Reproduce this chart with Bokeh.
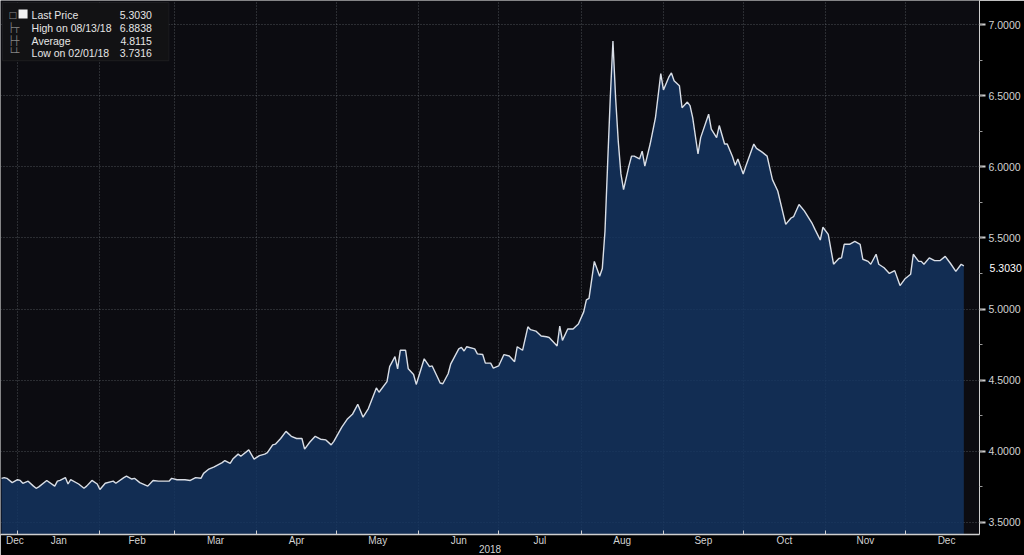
import pandas as pd
from bokeh.plotting import figure
from bokeh.models import (Range1d, FixedTicker, SingleIntervalTicker, NumeralTickFormatter,
                          Label, BoxAnnotation, ColumnDataSource)
from bokeh.embed import file_html
from bokeh.resources import INLINE

# ---------------- data ----------------
dates = [
    "2017-12-26", "2017-12-27", "2017-12-28", "2017-12-30",
    "2018-01-01", "2018-01-02", "2018-01-03", "2018-01-05", "2018-01-07", "2018-01-08", "2018-01-09",
    "2018-01-12", "2018-01-15", "2018-01-16", "2018-01-17", "2018-01-19", "2018-01-20", "2018-01-21",
    "2018-01-24", "2018-01-26", "2018-01-27", "2018-01-29", "2018-01-31",
    "2018-02-01", "2018-02-03", "2018-02-06", "2018-02-07", "2018-02-10", "2018-02-11", "2018-02-13",
    "2018-02-14", "2018-02-16", "2018-02-19", "2018-02-21", "2018-02-23", "2018-02-27", "2018-02-28",
    "2018-03-02", "2018-03-05", "2018-03-07", "2018-03-09", "2018-03-11", "2018-03-12", "2018-03-14",
    "2018-03-16", "2018-03-19", "2018-03-20", "2018-03-22", "2018-03-23", "2018-03-25", "2018-03-26",
    "2018-03-29", "2018-03-31",
    "2018-04-02", "2018-04-04", "2018-04-05", "2018-04-07", "2018-04-08", "2018-04-10", "2018-04-12",
    "2018-04-14", "2018-04-16", "2018-04-18", "2018-04-19", "2018-04-21", "2018-04-23", "2018-04-25",
    "2018-04-27", "2018-04-29", "2018-04-30",
    "2018-05-03", "2018-05-05", "2018-05-07", "2018-05-09", "2018-05-11", "2018-05-13", "2018-05-16",
    "2018-05-17", "2018-05-20", "2018-05-21", "2018-05-23", "2018-05-24", "2018-05-25", "2018-05-27",
    "2018-05-28", "2018-05-30", "2018-05-31",
    "2018-06-03", "2018-06-05", "2018-06-06", "2018-06-08", "2018-06-09", "2018-06-10", "2018-06-12",
    "2018-06-13", "2018-06-16", "2018-06-17", "2018-06-18", "2018-06-19", "2018-06-22", "2018-06-23",
    "2018-06-25", "2018-06-26", "2018-06-28", "2018-06-29",
    "2018-07-01", "2018-07-03", "2018-07-05", "2018-07-07", "2018-07-08", "2018-07-10", "2018-07-12",
    "2018-07-13", "2018-07-15", "2018-07-17", "2018-07-19", "2018-07-20", "2018-07-23", "2018-07-24",
    "2018-07-25", "2018-07-27", "2018-07-29", "2018-07-31",
    "2018-08-02", "2018-08-03", "2018-08-04", "2018-08-06", "2018-08-08", "2018-08-09", "2018-08-10",
    "2018-08-11", "2018-08-12", "2018-08-13", "2018-08-14", "2018-08-15", "2018-08-16", "2018-08-17",
    "2018-08-19", "2018-08-20", "2018-08-21", "2018-08-23", "2018-08-24", "2018-08-25", "2018-08-27",
    "2018-08-29", "2018-08-31",
    "2018-09-01", "2018-09-03", "2018-09-04", "2018-09-05", "2018-09-07", "2018-09-08", "2018-09-10",
    "2018-09-11", "2018-09-12", "2018-09-14", "2018-09-15", "2018-09-18", "2018-09-19", "2018-09-21",
    "2018-09-22", "2018-09-24", "2018-09-25", "2018-09-27", "2018-09-28", "2018-09-29",
    "2018-10-01", "2018-10-02", "2018-10-05", "2018-10-06", "2018-10-08", "2018-10-10", "2018-10-12",
    "2018-10-14", "2018-10-17", "2018-10-19", "2018-10-20", "2018-10-22", "2018-10-24", "2018-10-27",
    "2018-10-28", "2018-10-30", "2018-10-31",
    "2018-11-02", "2018-11-04", "2018-11-06", "2018-11-07", "2018-11-08", "2018-11-10", "2018-11-12",
    "2018-11-14", "2018-11-15", "2018-11-17", "2018-11-18", "2018-11-20", "2018-11-21", "2018-11-23",
    "2018-11-25", "2018-11-27", "2018-11-29",
    "2018-12-01", "2018-12-03", "2018-12-04", "2018-12-06", "2018-12-07", "2018-12-08", "2018-12-10",
    "2018-12-12", "2018-12-14", "2018-12-16", "2018-12-18", "2018-12-20", "2018-12-22", "2018-12-23",
]
prices = [
    3.810, 3.815, 3.810, 3.780,
    3.800, 3.795, 3.775, 3.790, 3.755, 3.740, 3.750,
    3.795, 3.755, 3.790, 3.795, 3.815, 3.770, 3.800,
    3.770, 3.740, 3.755, 3.795, 3.770,
    3.7316, 3.775, 3.790, 3.775, 3.815, 3.825, 3.805,
    3.810, 3.780, 3.755, 3.795, 3.790, 3.790, 3.810,
    3.800, 3.800, 3.795, 3.815, 3.810, 3.845, 3.875,
    3.890, 3.920, 3.935, 3.915, 3.945, 3.980, 3.965,
    4.010, 3.945,
    3.970, 3.980, 3.990, 4.045, 4.050, 4.090, 4.140,
    4.105, 4.090, 4.090, 4.015, 4.065, 4.105, 4.085,
    4.080, 4.045, 4.070,
    4.170, 4.225, 4.260, 4.330, 4.240, 4.300, 4.445,
    4.415, 4.490, 4.595, 4.665, 4.580, 4.710, 4.710,
    4.580, 4.540, 4.470,
    4.650, 4.595, 4.600, 4.520, 4.480, 4.475, 4.545,
    4.615, 4.720, 4.730, 4.705, 4.735, 4.720, 4.685,
    4.680, 4.620, 4.620, 4.585,
    4.600, 4.680, 4.670, 4.630, 4.735, 4.710, 4.875,
    4.855, 4.845, 4.810, 4.805, 4.800, 4.740, 4.880,
    4.780, 4.860, 4.860, 4.895,
    4.980, 5.065, 5.075, 5.335, 5.230, 5.285, 5.545,
    6.020, 6.485, 6.8838, 6.485, 6.180, 5.950, 5.840,
    6.005, 6.075, 6.075, 6.055, 6.110, 6.005, 6.160,
    6.345, 6.655,
    6.540, 6.630, 6.660, 6.605, 6.570, 6.415, 6.455,
    6.430, 6.345, 6.090, 6.205, 6.370, 6.265, 6.205,
    6.290, 6.160, 6.160, 6.070, 6.010, 6.055,
    5.950, 6.005, 6.160, 6.130, 6.105, 6.075, 5.910,
    5.830, 5.595, 5.640, 5.650, 5.735, 5.690, 5.600,
    5.560, 5.485, 5.575,
    5.525, 5.315, 5.355, 5.360, 5.455, 5.455, 5.475,
    5.455, 5.350, 5.335, 5.315, 5.385, 5.315, 5.290,
    5.250, 5.270, 5.165,
    5.215, 5.245, 5.385, 5.335, 5.335, 5.315, 5.360,
    5.340, 5.340, 5.370, 5.320, 5.265, 5.315, 5.303,
]

month_starts = ["2018-01-01", "2018-02-01", "2018-03-01", "2018-04-01", "2018-05-01", "2018-06-01",
                "2018-07-01", "2018-08-01", "2018-09-01", "2018-10-01", "2018-11-01", "2018-12-01",
                "2019-01-01"]
month_names = ["Dec", "Jan", "Feb", "Mar", "Apr", "May", "Jun", "Jul", "Aug", "Sep", "Oct", "Nov", "Dec"]
first_label_date = "2017-12-31"
year_label = "2018"

legend_names = ["Last Price", "High on 08/13/18", "Average", "Low on 02/01/18"]
legend_values = [5.3030, 6.8838, 4.8115, 3.7316]
last_price = 5.3030

# ---------------- helpers ----------------
origin = pd.Timestamp("2018-01-01")
def day(s):
    return float((pd.Timestamp(s) - origin).days)

xs = [day(d) for d in dates]
starts = [day(d) for d in month_starts]
mids = [day(first_label_date)] + [(starts[i] + starts[i + 1]) / 2 for i in range(len(starts) - 1)]
boundaries = starts[:-1]

X0, X1 = -6.4, 361.9
Y0, Y1 = 3.415, 7.169
FW, FH = 977.0, 532.0
def dx(px):
    return X0 + px / FW * (X1 - X0)
def dy(py):
    return Y1 - py / FH * (Y1 - Y0)

FONT = "Liberation Sans"
TXT = "#d2d2d2"

p = figure(width=1024, height=555, output_backend="svg", toolbar_location=None,
           x_range=Range1d(X0, X1), y_range=Range1d(Y0, Y1), y_axis_location="right",
           min_border_left=0, min_border_top=0, min_border_right=0, min_border_bottom=0)
p.background_fill_color = "#0c0c11"
p.border_fill_color = "#000000"
p.outline_line_color = None

src = ColumnDataSource(dict(x=xs, y=prices))
p.varea(x="x", y1=Y0, y2="y", source=src, fill_color="#143462", fill_alpha=0.82)
p.line(x="x", y="y", source=src, line_color="#d9dee6", line_width=1.4)

# grids
p.xgrid.ticker = FixedTicker(ticks=boundaries)
p.ygrid.ticker = SingleIntervalTicker(interval=0.5)
for g in (p.xgrid, p.ygrid):
    g.grid_line_color = "#8a8f99"
    g.grid_line_alpha = 0.5
    g.grid_line_dash = "1 2"
    g.grid_line_width = 1

# bottom axis
xa = p.xaxis[0]
xa.ticker = FixedTicker(ticks=mids, minor_ticks=boundaries)
xa.major_label_overrides = {m: n for m, n in zip(mids, month_names)}
xa.major_tick_in = 0
xa.major_tick_out = 0
xa.minor_tick_in = 4
xa.minor_tick_out = 0
xa.minor_tick_line_color = "#cfcfcf"
xa.axis_line_color = "#cfcfcf"
xa.axis_line_width = 1.5
xa.major_label_text_color = TXT
xa.major_label_text_font = FONT
xa.major_label_text_font_size = "10px"
xa.major_label_standoff = 0
xa.axis_label = year_label
xa.axis_label_text_color = TXT
xa.axis_label_text_font = FONT
xa.axis_label_text_font_style = "normal"
xa.axis_label_text_font_size = "10px"
xa.axis_label_standoff = -4

# right axis
ya = p.yaxis[0]
ya.ticker = SingleIntervalTicker(interval=0.5, num_minor_ticks=2)
ya.formatter = NumeralTickFormatter(format="0.0000")
ya.axis_line_color = "#cfcfcf"
ya.major_tick_in = 0
ya.major_tick_out = 6
ya.major_tick_line_color = "#cfcfcf"
ya.major_tick_line_width = 2
ya.minor_tick_in = 0
ya.minor_tick_out = 3
ya.minor_tick_line_color = "#9a9a9a"
ya.major_label_text_color = TXT
ya.major_label_text_font = FONT
ya.major_label_text_font_size = "10.5px"
ya.major_label_standoff = 3

# last price tag: the right axis' own label, centred on the axis (frame middle),
# pulled back over the tick label column so that it takes no extra width
ya.axis_label = f"{last_price:.4f}"
ya.axis_label_orientation = "horizontal"
ya.axis_label_text_font = FONT
ya.axis_label_text_font_size = "10.5px"
ya.axis_label_text_font_style = "normal"
ya.axis_label_standoff = -34
props = ya.properties()
if "axis_label_background_fill_color" in props:
    ya.axis_label_background_fill_color = "#e4e4e4"
    ya.axis_label_text_color = "#1a1a1a"
    if "axis_label_border_line_color" in props:
        ya.axis_label_border_line_color = "#bdbdbd"
else:
    ya.axis_label_text_color = "#ffffff"

# legend box
p.add_layout(BoxAnnotation(left=dx(2), right=dx(168), top=dy(2), bottom=dy(60),
                           fill_color="#121214", fill_alpha=1.0, line_color="#3c3c40", line_width=1))
rows_py = [14, 27, 40, 52]
marks = ["\u25A1", "\u251C\u252C", "\u251C\u253C", "\u2514\u2534"]
for i, (name, val) in enumerate(zip(legend_names, legend_values)):
    yy = dy(rows_py[i])
    p.add_layout(Label(x=dx(31), y=yy, text=name, text_baseline="middle", text_align="left",
                       text_font=FONT, text_font_size="10.5px", text_color="#e6e6e6"))
    p.add_layout(Label(x=dx(151), y=yy, text=f"{val:.4f}", text_baseline="middle", text_align="right",
                       text_font=FONT, text_font_size="10.5px", text_color="#e6e6e6"))
    p.add_layout(Label(x=dx(8), y=yy, text=marks[i], text_baseline="middle", text_align="left",
                       text_font="DejaVu Sans", text_font_size="9px", text_color="#8a8a8a"))
p.add_layout(BoxAnnotation(left=dx(18), right=dx(27), top=dy(9), bottom=dy(18),
                           fill_color="#f2f2f2", fill_alpha=1.0, line_color=None))

open("out.html", "w").write(file_html(p, INLINE))
